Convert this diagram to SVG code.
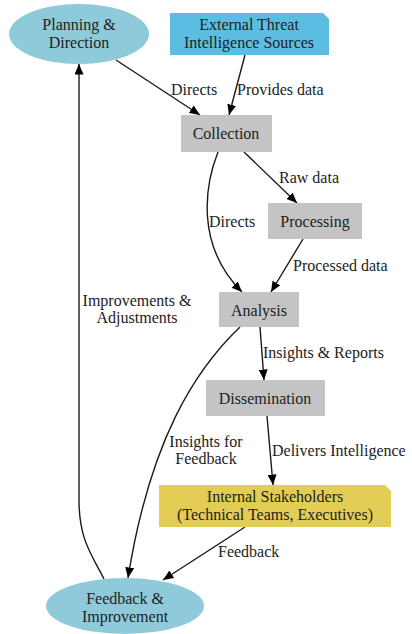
<svg xmlns="http://www.w3.org/2000/svg" width="412" height="634" viewBox="0 0 412 634" font-family="Liberation Serif, DejaVu Serif, serif" font-size="16">
<style>
text{fill:#222}
.n text{text-anchor:middle}
.e{fill:none;stroke:#1a1a1a;stroke-width:1.4;marker-end:url(#ah)}
.ell{fill:#8ecad9}
.box{fill:#c4c4c4}
</style>
<defs>
<marker id="ah" markerUnits="userSpaceOnUse" markerWidth="11" markerHeight="9" refX="10.5" refY="4.5" orient="auto">
<path d="M0,0 L10.5,4.5 L0,9 z" fill="#000"/>
</marker>
</defs>
<rect width="412" height="634" fill="#fff"/>
<g id="connectors">
<path class="e" d="M116,60 L200,115"/>
<path class="e" d="M245,55 L229,115"/>
<path class="e" d="M244,152 L297,203"/>
<path class="e" d="M218,152 C205,185 195,245 242,292"/>
<path class="e" d="M303,239 L271,292"/>
<path class="e" d="M260,327 L264,380"/>
<path class="e" d="M267,416 L273,485"/>
<path class="e" d="M240,327 C195,370 150,440 128,578"/>
<path class="e" d="M245,527 L163,580"/>
<path class="e" d="M104,579 C92,555 79,540 79,500 L79,64"/>
<text x="171" y="95">Directs</text>
<text x="237" y="95">Provides data</text>
<text x="279" y="183">Raw data</text>
<text x="209" y="227">Directs</text>
<text x="293" y="271">Processed data</text>
<text x="137" y="306" text-anchor="middle">Improvements &amp;</text>
<text x="137" y="323" text-anchor="middle">Adjustments</text>
<text x="206" y="447" text-anchor="middle">Insights for</text>
<text x="206" y="464" text-anchor="middle">Feedback</text>
<text x="263" y="358">Insights &amp; Reports</text>
<text x="272" y="456">Delivers Intelligence</text>
<text x="218" y="557">Feedback</text>
</g>
<g id="planning" class="n">
<ellipse class="ell" cx="79" cy="34" rx="70" ry="30"/>
<text x="79" y="30">Planning &amp;</text>
<text x="79" y="48">Direction</text>
</g>
<g id="external" class="n">
<path d="M170,13 H323 L329,19 V55 H170 Z" fill="#5cbde2"/>
<text x="249" y="30">External Threat</text>
<text x="249" y="48">Intelligence Sources</text>
</g>
<g id="collection" class="n">
<rect class="box" x="181" y="115" width="91" height="37"/>
<text x="226" y="139">Collection</text>
</g>
<g id="processing" class="n">
<rect class="box" x="268" y="203" width="94" height="36"/>
<text x="315" y="227">Processing</text>
</g>
<g id="analysis" class="n">
<rect class="box" x="219" y="292" width="80" height="35"/>
<text x="259" y="316">Analysis</text>
</g>
<g id="dissemination" class="n">
<rect class="box" x="206" y="380" width="119" height="36"/>
<text x="265" y="404">Dissemination</text>
</g>
<g id="internal" class="n">
<path d="M159,485 H385 L391,491 V527 H159 Z" fill="#e4cd55"/>
<text x="275" y="502">Internal Stakeholders</text>
<text x="275" y="520">(Technical Teams, Executives)</text>
</g>
<g id="feedback" class="n">
<ellipse class="ell" cx="125" cy="606" rx="79" ry="28"/>
<text x="125" y="604">Feedback &amp;</text>
<text x="125" y="622">Improvement</text>
</g>
</svg>
